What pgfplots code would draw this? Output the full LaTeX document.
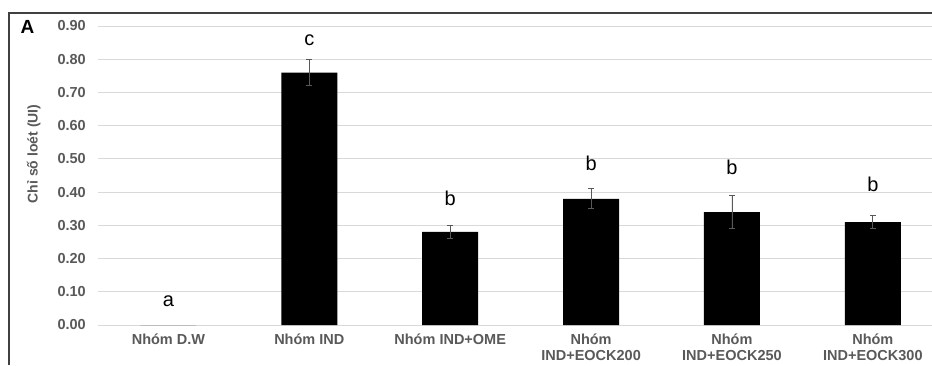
\documentclass[border=0pt]{standalone}
\usepackage{pgfplots}
\pgfplotsset{compat=1.18}
\usepackage{fontspec}
\setmainfont{Liberation Sans}
\definecolor{tickgrey}{HTML}{595959}
\definecolor{gridgrey}{HTML}{D9D9D9}
\definecolor{errgrey}{HTML}{595959}
\definecolor{framegrey}{HTML}{404040}
\pgfplotstableread{
x y e
1 0.76 0.04
2 0.28 0.02
3 0.38 0.03
4 0.34 0.05
5 0.31 0.02
}\bardata
\begin{document}
\begin{tikzpicture}[x=1pt,y=1pt]
\path[use as bounding box] (0,0) rectangle (932,365);
\draw[color=framegrey, line width=1.5pt] (9,0) -- (9,352) -- (932,352);
\node[font=\bfseries\fontsize{19}{19}\selectfont, anchor=center] at (27.5,338) {A};
\begin{axis}[
  at={(98pt,40pt)}, anchor=south west,
  width=834pt, height=299pt, scale only axis,
  xmin=-0.5, xmax=5.42, ymin=0, ymax=0.9,
  ytick={0,0.1,0.2,0.3,0.4,0.5,0.6,0.7,0.8,0.9},
  xtick={0,1,2,3,4,5},
  xticklabels={Nhóm D.W, Nhóm IND, Nhóm IND+OME, Nhóm\\IND+EOCK200, Nhóm\\IND+EOCK250, Nhóm\\IND+EOCK300},
  axis line style={draw=none},
  major tick length=0pt,
  ymajorgrids, grid style={color=gridgrey, line width=1pt},
  /pgf/number format/assume math mode=true,
  yticklabel style={/pgf/number format/fixed, /pgf/number format/fixed zerofill, /pgf/number format/precision=2,
    font=\bfseries\fontsize{14.5}{15}\selectfont, text=tickgrey, inner sep=0pt, anchor=east, xshift=-12pt},
  xticklabel style={font=\bfseries\fontsize{14.5}{15.5}\selectfont, text=tickgrey, align=center, anchor=north, inner sep=0pt, yshift=-9pt},
  ylabel={Chỉ số loét (UI)},
  ylabel style={at={(rel axis cs:-0.077,0.572)}, anchor=center, font=\bfseries\fontsize{14}{14}\selectfont, text=tickgrey},
  clip=false,
]
\addplot[ybar, bar width=56pt, bar shift=0pt, fill=black, draw=none] coordinates {(0,0)};
\addplot[ybar, bar width=56pt, bar shift=0pt, fill=black, draw=none,
  error bars/.cd, y dir=both, y explicit,
  error bar style={color=errgrey, line width=0.8pt},
  error mark options={rotate=90, mark size=3pt, color=errgrey, line width=0.8pt}]
  table[x=x, y=y, y error=e] {\bardata};
\begin{scope}[font=\fontsize{20}{20}\selectfont]
\node[anchor=base] at (axis cs:0,0.057) {a};
\node[anchor=base] at (axis cs:1,0.841) {c};
\node[anchor=base] at (axis cs:2,0.360) {b};
\node[anchor=base] at (axis cs:3,0.465) {b};
\node[anchor=base] at (axis cs:4,0.452) {b};
\node[anchor=base] at (axis cs:5,0.401) {b};
\end{scope}
\end{axis}
\end{tikzpicture}
\end{document}
